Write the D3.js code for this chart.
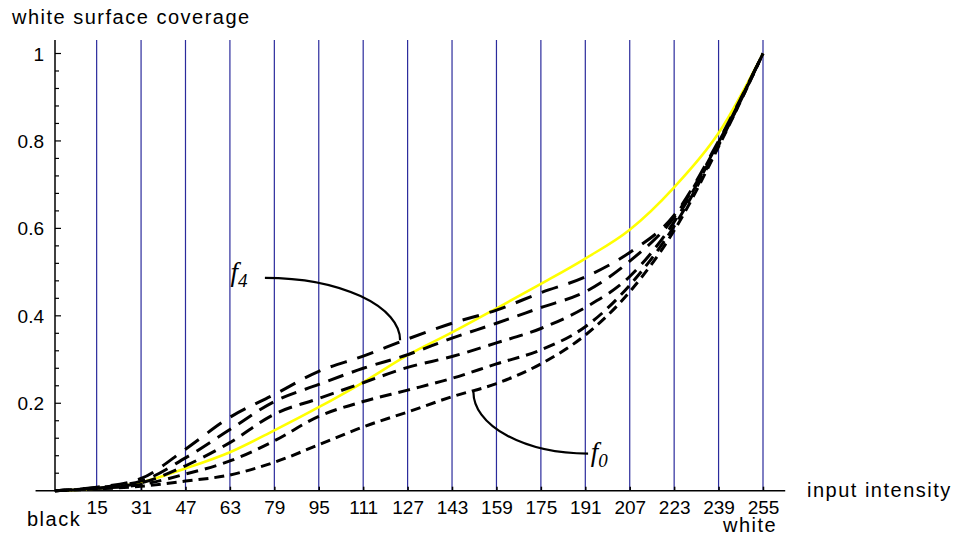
<!DOCTYPE html>
<html>
<head>
<meta charset="utf-8">
<script src="https://cdnjs.cloudflare.com/ajax/libs/d3/7.8.5/d3.min.js"></script>
<style>
  body { margin: 0; background: #fff; }
  svg { display: block; font-family: "Liberation Sans", Arial, sans-serif; }
  .lbl { font-size: 20px; letter-spacing: 1.5px; }
  .tick { font-size: 19px; }
  .fl { font-family: "Liberation Serif", "Times New Roman", serif; font-style: italic; }
</style>
</head>
<body>
<svg id="chart" width="960" height="538"></svg>
<script>
// input intensities (one blue line each) and white surface coverage curves
var inputs = [0, 15, 31, 47, 63, 79, 95, 111, 127, 143, 159, 175, 191, 207, 223, 239, 255];
var yellowCurve = [0, 0.005, 0.019, 0.051, 0.088, 0.138, 0.191, 0.248, 0.31, 0.362, 0.417, 0.473, 0.531, 0.597, 0.694, 0.818, 1];
var f0 = [0, 0.004, 0.01, 0.022, 0.036, 0.065, 0.105, 0.146, 0.18, 0.215, 0.245, 0.29, 0.356, 0.455, 0.595, 0.787, 1];
var f1 = [0, 0.005, 0.014, 0.038, 0.068, 0.114, 0.17, 0.204, 0.23, 0.257, 0.29, 0.322, 0.375, 0.47, 0.605, 0.79, 1];
var f2 = [0, 0.006, 0.018, 0.057, 0.11, 0.175, 0.211, 0.247, 0.282, 0.307, 0.338, 0.371, 0.419, 0.49, 0.615, 0.793, 1];
var f3 = [0, 0.007, 0.022, 0.075, 0.14, 0.204, 0.243, 0.28, 0.311, 0.349, 0.383, 0.419, 0.455, 0.525, 0.625, 0.797, 1];
var f4 = [0, 0.008, 0.028, 0.095, 0.168, 0.22, 0.273, 0.308, 0.347, 0.383, 0.413, 0.453, 0.489, 0.545, 0.63, 0.8, 1];
var yTicks = [0.2, 0.4, 0.6, 0.8, 1];

d3.select(window).on('load', init);

function init() {

    var svg = d3.select('#chart');

    var x = d3.scaleLinear().domain([0, 255]).range([55, 763]);
    var y = d3.scaleLinear().domain([0, 1]).range([490.7, 53.5]);

    //blue grid lines at every input level
    svg.append("g").selectAll("line")
        .data(inputs.slice(1))
        .enter()
        .append("line")
        .attr("x1", function(d){ return x(d); })
        .attr("x2", function(d){ return x(d); })
        .attr("y1", y(1.031))
        .attr("y2", y(0))
        .style("stroke", "#2b2b9c")
        .style("stroke-width", 1.2);

    //x axis with ticks pointing up
    var xAxis = d3.axisBottom(x)
        .tickValues(inputs.slice(1))
        .tickSizeInner(-4)
        .tickSizeOuter(0)
        .tickPadding(12);
    var gx = svg.append("g")
        .attr("transform", "translate(0," + y(0) + ")")
        .call(xAxis);
    gx.select(".domain").attr("d", "M" + x(-7) + ",0H" + x(263));
    gx.selectAll(".tick text").attr("class", "tick").attr("font-size", null).attr("font-family", null)
        .attr("fill", "#000").attr("dy", "0.62em");
    gx.selectAll("line, path").attr("stroke", "#000").attr("stroke-width", 1.5);

    //y axis, ticks on the inner side
    var yMinor = d3.range(1, 26).map(function(i){ return i * 0.04; });
    svg.append("g").selectAll("line")
        .data(yMinor)
        .enter()
        .append("line")
        .attr("x1", x(0))
        .attr("x2", function(d){ return x(0) + (yTicks.some(function(t){ return Math.abs(t - d) < 1e-6; }) ? 6 : 4); })
        .attr("y1", function(d){ return y(d); })
        .attr("y2", function(d){ return y(d); })
        .style("stroke", "#000")
        .style("stroke-width", 1.2);

    svg.append("line")
        .attr("x1", x(0)).attr("x2", x(0))
        .attr("y1", y(1.031)).attr("y2", y(0) + 1)
        .style("stroke", "#000")
        .style("stroke-width", 1.5);

    svg.append("g").selectAll("text")
        .data(yTicks)
        .enter()
        .append("text")
        .attr("class", "tick")
        .attr("x", x(0) - 11)
        .attr("y", function(d){ return y(d) + 7; })
        .attr("text-anchor", "end")
        .text(function(d){ return d; });

    //curves
    var line = d3.line()
        .x(function(d, i){ return x(inputs[i]); })
        .y(function(d){ return y(d); })
        .curve(d3.curveMonotoneX);

    var dashed = [
        {v: f0, dash: "10,6"},
        {v: f1, dash: "12,7"},
        {v: f2, dash: "14,8"},
        {v: f3, dash: "16,9"},
        {v: f4, dash: "17,11"}
    ];

    svg.append("path")
        .attr("d", line(yellowCurve))
        .style("fill", "none")
        .style("stroke", "#ffff00")
        .style("stroke-width", 2.6);

    svg.append("g").selectAll("path")
        .data(dashed)
        .enter()
        .append("path")
        .attr("d", function(d){ return line(d.v); })
        .style("fill", "none")
        .style("stroke", "#000")
        .style("stroke-width", 3)
        .style("stroke-dasharray", function(d){ return d.dash; });

    //leader lines to f4 and f0
    var a4 = [x(124.3), y(0.344)], s4 = [x(75.6), y(0.487)];
    svg.append("path")
        .attr("d", "M" + s4[0] + "," + s4[1] + " A" + (a4[0] - s4[0]) + "," + (a4[1] - s4[1]) + " 0 0 1 " + a4[0] + "," + a4[1])
        .style("fill", "none").style("stroke", "#000").style("stroke-width", 2.2);

    var a0 = [x(150.7), y(0.226)], e0 = [x(192), y(0.085)];
    svg.append("path")
        .attr("d", "M" + a0[0] + "," + a0[1] + " A" + (e0[0] - a0[0]) + "," + (a0[1] - e0[1] > 0 ? e0[1] - a0[1] : a0[1] - e0[1]) + " 0 0 0 " + e0[0] + "," + e0[1])
        .style("fill", "none").style("stroke", "#000").style("stroke-width", 2.2);

    var t4 = svg.append("text").attr("class", "fl").attr("x", x(63.2)).attr("y", y(0.48));
    t4.append("tspan").attr("font-size", 27).text("f");
    t4.append("tspan").attr("font-size", 19).attr("dy", 6).text("4");

    var t0 = svg.append("text").attr("class", "fl").attr("x", x(193)).attr("y", y(0.085) + 7);
    t0.append("tspan").attr("font-size", 27).text("f");
    t0.append("tspan").attr("font-size", 19).attr("dy", 6).text("0");

    //axis titles
    svg.append("text").attr("class", "lbl").attr("x", 12).attr("y", 24).text("white surface coverage");
    svg.append("text").attr("class", "lbl").attr("x", 807).attr("y", 497).text("input intensity");
    svg.append("text").attr("class", "lbl").attr("x", 27).attr("y", 526).text("black");
    svg.append("text").attr("class", "lbl").attr("x", 723).attr("y", 532).text("white");
}
</script>
</body>
</html>
